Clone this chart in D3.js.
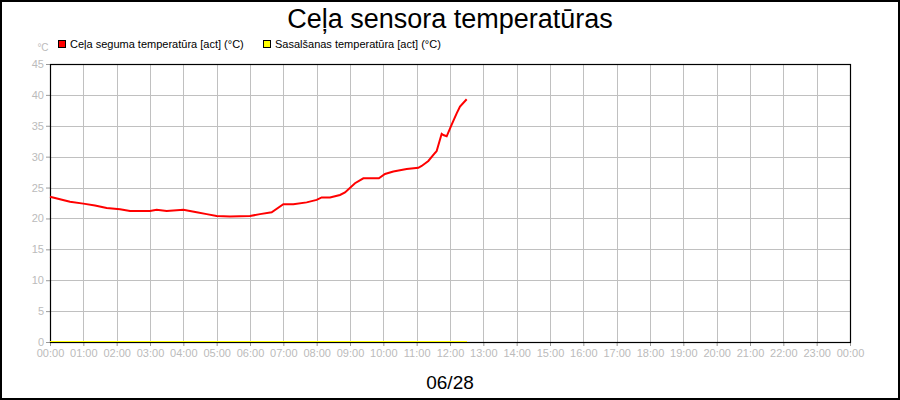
<!DOCTYPE html>
<html>
<head>
<meta charset="utf-8">
<script src="https://cdn.jsdelivr.net/npm/d3@7"></script>
<style type="text/css">
  body{
    margin: 0px;
    background: white;
    font-family: 'Liberation Sans', Arial, sans-serif;
  }
  .tick text{
    fill: #bbb;
    font-size: 11px;
  }
</style>
</head>
<body>

<svg id="chart" width="900" height="400"></svg>

<script>

var title = 'Ceļa sensora temperatūras';
var dateLabel = '06/28';
var unitLabel = '°C';
var seriesNames = ['Ceļa seguma temperatūra [act] (°C)', 'Sasalšanas temperatūra [act] (°C)'];
var seriesColors = ['#ff0000', '#ffff00'];

// road surface temperature
var roadTimes = ['00:00','00:18','00:36','01:00','01:21','01:42','02:06','02:24','03:00','03:12','03:30',
  '04:00','04:24','04:42','05:00','05:24','06:00','06:18','06:39','07:00','07:18','07:42','08:00','08:09',
  '08:24','08:42','08:51','09:09','09:24','09:52','10:03','10:18','10:42','11:03','11:09','11:21','11:33',
  '11:36','11:45','11:48','11:54','12:03','12:12','12:18','12:30'];
var roadValues = [23.5,23.1,22.7,22.4,22.1,21.7,21.5,21.2,21.2,21.4,21.2,
  21.4,21.0,20.7,20.4,20.3,20.4,20.7,21.0,22.3,22.3,22.6,23.0,23.4,
  23.4,23.8,24.2,25.7,26.5,26.5,27.2,27.6,28.0,28.2,28.5,29.3,30.6,
  30.9,33.7,33.5,33.3,35.2,37.0,38.1,39.3];

// freezing temperature
var freezeTimes = ['00:00','12:30'];
var freezeValues = [0, 0];

var yTicks = [0,5,10,15,20,25,30,35,40,45];

var margin = {left: 50, right: 50, top: 64, bottom: 58};
var width = 900, height = 400;

var svg = d3.select('#chart');

var parseHM = function(s) { var p = s.split(':'); return +p[0] + p[1] / 60; };

var x = d3.scaleLinear().domain([0, 24]).range([margin.left, width - margin.right]);
var y = d3.scaleLinear().domain([0, 45]).range([height - margin.bottom, margin.top]);

// outer frame
svg.append('rect')
  .attr('x', 1).attr('y', 1)
  .attr('width', width - 2).attr('height', height - 2)
  .attr('fill', 'white')
  .attr('stroke', 'black')
  .attr('stroke-width', 2);

svg.append('text')
  .attr('x', width / 2).attr('y', 28)
  .attr('text-anchor', 'middle')
  .style('font-size', '27px')
  .text(title);

// grid
svg.append('g').selectAll('line')
  .data(yTicks.slice(1, -1))
  .enter().append('line')
  .attr('x1', x(0)).attr('x2', x(24))
  .attr('y1', function(d) { return Math.round(y(d)) + 0.5; })
  .attr('y2', function(d) { return Math.round(y(d)) + 0.5; })
  .attr('stroke', '#c0c0c0');

svg.append('g').selectAll('line')
  .data(d3.range(1, 24))
  .enter().append('line')
  .attr('y1', y(0)).attr('y2', y(45))
  .attr('x1', function(d) { return Math.round(x(d)) + 0.5; })
  .attr('x2', function(d) { return Math.round(x(d)) + 0.5; })
  .attr('stroke', '#c0c0c0');

// axes
var yAxis = d3.axisLeft(y).tickValues(yTicks).tickSize(4).tickPadding(2);
var xAxis = d3.axisBottom(x).tickValues(d3.range(0, 25)).tickSize(4).tickPadding(3)
  .tickFormat(function(d) { return d3.format('02d')(d % 24) + ':00'; });

var gy = svg.append('g').attr('transform', 'translate(' + margin.left + ',0)').call(yAxis);
var gx = svg.append('g').attr('transform', 'translate(0,' + (height - margin.bottom) + ')').call(xAxis);
[gx, gy].forEach(function(g) {
  g.select('.domain').remove();
  g.selectAll('.tick line').attr('stroke', '#999');
  g.style('font-family', "'Liberation Sans', Arial, sans-serif");
});

// plot border
svg.append('rect')
  .attr('x', x(0) + 0.5).attr('y', y(45) + 0.5)
  .attr('width', x(24) - x(0)).attr('height', y(0) - y(45))
  .attr('fill', 'none')
  .attr('stroke', 'black')
  .attr('stroke-width', 1.2);

// lines
var line = d3.line()
  .x(function(d) { return x(d[0]); })
  .y(function(d) { return y(d[1]); });

var freezeData = freezeTimes.map(function(t, i) { return [parseHM(t), freezeValues[i]]; });
var roadData = roadTimes.map(function(t, i) { return [parseHM(t), roadValues[i]]; });

svg.append('path')
  .datum(freezeData)
  .attr('d', line)
  .attr('transform', 'translate(0,-0.5)')
  .attr('fill', 'none')
  .attr('stroke', seriesColors[1])
  .attr('stroke-width', 1)
  .attr('shape-rendering', 'crispEdges');

svg.append('path')
  .datum(roadData)
  .attr('d', line)
  .attr('fill', 'none')
  .attr('stroke', seriesColors[0])
  .attr('stroke-width', 2);

// unit label
svg.append('text')
  .attr('x', 43).attr('y', 51)
  .attr('text-anchor', 'middle')
  .attr('fill', '#bbb')
  .style('font-size', '10px')
  .text(unitLabel);

// legend
var legendX = [58, 263];
var legend = svg.append('g').selectAll('g')
  .data(seriesNames)
  .enter().append('g')
  .attr('transform', function(d, i) { return 'translate(' + legendX[i] + ',40)'; });

legend.append('rect')
  .attr('x', 0.5).attr('y', 0.5)
  .attr('width', 7).attr('height', 7)
  .attr('fill', function(d, i) { return seriesColors[i]; })
  .attr('stroke', 'black');

legend.append('text')
  .attr('x', 12).attr('y', 8)
  .style('font-size', '11px')
  .text(function(d) { return d; });

svg.append('text')
  .attr('x', width / 2).attr('y', 389)
  .attr('text-anchor', 'middle')
  .style('font-size', '19px')
  .text(dateLabel);

</script>

</body>
</html>
